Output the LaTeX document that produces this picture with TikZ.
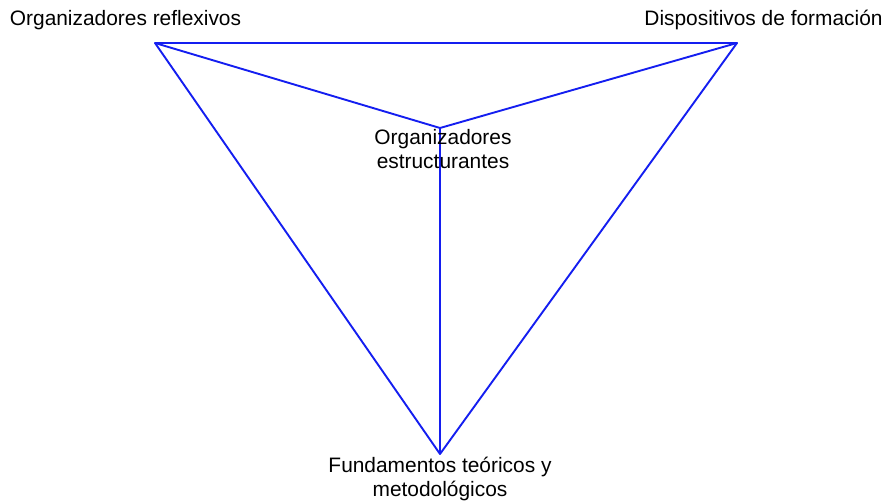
\documentclass[tikz,border=0pt]{standalone}
\usepackage{fontspec}
\setmainfont{Liberation Sans}
\usetikzlibrary{positioning}
\definecolor{edgecolor}{RGB}{20,30,240}
\tikzstyle{label} = [inner sep=0pt, align=center, font=\fontsize{20.9}{23.5}\selectfont]
\tikzstyle{edge} = [draw=edgecolor, line width=1.9pt, line join=round]

\begin{document}
\begin{tikzpicture}[x=1pt, y=-1pt]
\useasboundingbox (0,0) rectangle (886,502);

% Vertices
\coordinate (refl) at (155,43);
\coordinate (disp) at (737,43);
\coordinate (estr) at (440,128);
\coordinate (fund) at (440,454);

% Triangle
\draw[edge] (refl) -- (disp) -- (fund) -- cycle;
\draw[edge] (refl) -- (estr) -- (disp);
\draw[edge] (estr) -- (fund);

% Labels
\node[label] (reflL) at (125.5,20) {Organizadores reflexivos};
\node[label] (dispL) at (763.5,20) {Dispositivos de formación};
\node[label] (estrL) at (443,149) {Organizadores\\estructurantes};
\node[label] (fundL) at (440,479) {Fundamentos teóricos y\\metodológicos};

\end{tikzpicture}
\end{document}
